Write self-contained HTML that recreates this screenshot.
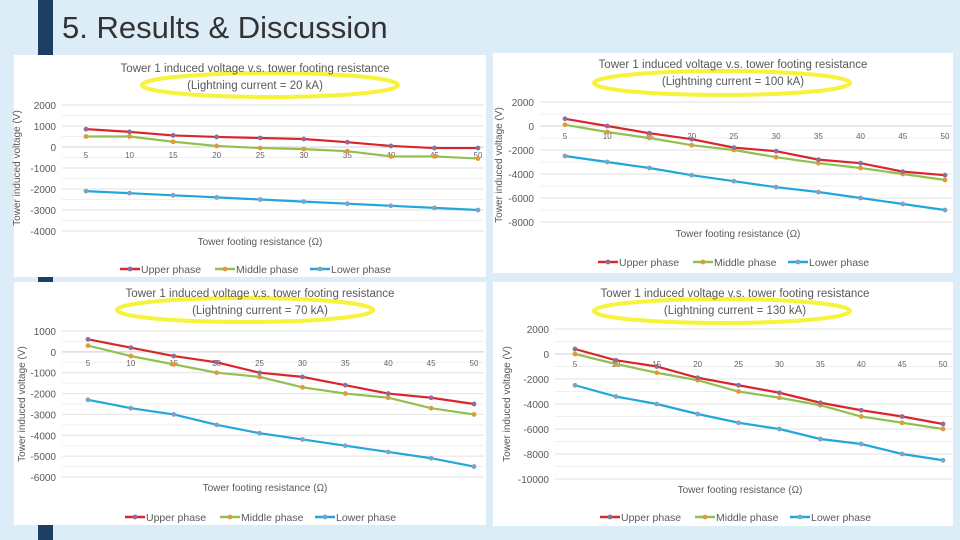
<!DOCTYPE html>
<html><head><meta charset="utf-8"><style>
body{margin:0;width:960px;height:540px;background:#dcedf7;overflow:hidden;position:relative;font-family:"Liberation Sans",sans-serif}
#bar{position:absolute;left:38px;top:0;width:15px;height:540px;background:#1d3f66}
#title{position:absolute;left:62px;top:10px;font-size:31px;color:#333;background:#dcedf7;padding-right:6px}
.panel{position:absolute;background:#fff}
svg{position:absolute;left:0;top:0}
</style></head><body>
<div id="bar"></div>
<div id="title">5. Results &amp; Discussion</div>
<div class="panel" style="left:14px;top:55px;width:472px;height:222px"></div>
<div class="panel" style="left:493px;top:53px;width:460px;height:220px"></div>
<div class="panel" style="left:14px;top:282px;width:472px;height:243px"></div>
<div class="panel" style="left:493px;top:282px;width:460px;height:244px"></div>
<svg id="s" width="960" height="540"></svg>
<script>
const categories=[5,10,15,20,25,30,35,40,45,50];
const upper20=[850,720,550,480,430,380,230,50,-50,-50];
const middle20=[500,500,250,50,-50,-100,-200,-450,-450,-550];
const lower20=[-2100,-2200,-2300,-2400,-2500,-2600,-2700,-2800,-2900,-3000];
const ticks20=[2000,1000,0,-1000,-2000,-3000,-4000];
const upper100=[600,0,-600,-1100,-1800,-2100,-2800,-3100,-3800,-4100];
const middle100=[100,-500,-1000,-1600,-2000,-2600,-3100,-3500,-4000,-4500];
const lower100=[-2500,-3000,-3500,-4100,-4600,-5100,-5500,-6000,-6500,-7000];
const ticks100=[2000,0,-2000,-4000,-6000,-8000];
const upper70=[600,200,-200,-500,-1000,-1200,-1600,-2000,-2200,-2500];
const middle70=[300,-200,-600,-1000,-1200,-1700,-2000,-2200,-2700,-3000];
const lower70=[-2300,-2700,-3000,-3500,-3900,-4200,-4500,-4800,-5100,-5500];
const ticks70=[1000,0,-1000,-2000,-3000,-4000,-5000,-6000];
const upper130=[400,-500,-1000,-1900,-2500,-3100,-3900,-4500,-5000,-5600];
const middle130=[0,-800,-1500,-2100,-3000,-3500,-4100,-5000,-5500,-6000];
const lower130=[-2500,-3400,-4000,-4800,-5500,-6000,-6800,-7200,-8000,-8500];
const ticks130=[2000,0,-2000,-4000,-6000,-8000,-10000];
const current=["20","100","70","130"];

const S=document.getElementById('s');const NS='http://www.w3.org/2000/svg';
function mk(t,a,txt){const e=document.createElementNS(NS,t);for(const k in a)e.setAttribute(k,a[k]);if(txt!==undefined)e.textContent=txt;S.appendChild(e);return e;}
const charts=[
 {cur:current[0],u:upper20,m:middle20,l:lower20,ticks:ticks20,gx0:62,gx1:484,x5:86,x50:478,vTop:2000,yTop:105,vBot:-4000,yBot:231,lab:158,t1:68,t2:85,ex:270,ey:85,cx:250,xt:241,lg:269,yl:20,ylc:168},
 {cur:current[1],u:upper100,m:middle100,l:lower100,ticks:ticks100,gx0:540,gx1:952,x5:565,x50:945,vTop:2000,yTop:102,vBot:-8000,yBot:222,lab:139,t1:64,t2:81,ex:722,ey:83,cx:728,xt:233,lg:262,yl:502,ylc:165},
 {cur:current[2],u:upper70,m:middle70,l:lower70,ticks:ticks70,gx0:62,gx1:484,x5:88,x50:474,vTop:1000,yTop:331,vBot:-6000,yBot:477,lab:366,t1:293,t2:310,ex:245,ey:310,cx:255,xt:487,lg:517,yl:25,ylc:404},
 {cur:current[3],u:upper130,m:middle130,l:lower130,ticks:ticks130,gx0:555,gx1:952,x5:575,x50:943,vTop:2000,yTop:329,vBot:-10000,yBot:479,lab:367,t1:293,t2:310,ex:722,ey:311,cx:730,xt:489,lg:517,yl:510,ylc:404}
];
charts.forEach((c,ci)=>{
 const X=v=>c.x5+(v-5)/(45)*(c.x50-c.x5);
 const Y=v=>c.yTop+(c.vTop-v)/(c.vTop-c.vBot)*(c.yBot-c.yTop);
 const step=c.ticks[0]-c.ticks[1];
 c.ticks.forEach((t,i)=>{
  let g=mk('line',{x1:c.gx0,x2:c.gx1,y1:Y(t),y2:Y(t),stroke:'#e2e2e2','stroke-width':1});
  
  if(i<c.ticks.length-1){let h=mk('line',{x1:c.gx0,x2:c.gx1,y1:Y(t-step/2),y2:Y(t-step/2),stroke:'#efefef','stroke-width':1});
  }
  let tl=mk('text',{x:c.gx0-6,y:Y(t)+4,'text-anchor':'end','font-size':10,fill:'#595959'},t);
  
 });
 let ax=mk('line',{x1:c.gx0,x2:c.gx1,y1:Y(0),y2:Y(0),stroke:'#d0d0d0'});
 
 categories.forEach(v=>{let t=mk('text',{x:X(v),y:c.lab,'text-anchor':'middle','font-size':8,fill:'#666'},v);
  });
 let e=mk('ellipse',{cx:c.ex,cy:c.ey,rx:128,ry:12,fill:'none',stroke:'#f7f23a','stroke-width':4});
 
 let t1=mk('text',{x:c.cx+5,y:c.t1+4,'text-anchor':'middle','font-size':11.5,fill:'#595959'},'Tower 1 induced voltage v.s. tower footing resistance');
 
 let t2=mk('text',{x:c.cx+5,y:c.t2+4,'text-anchor':'middle','font-size':11.5,fill:'#595959'},'(Lightning current = '+c.cur+' kA)');
 
 let yt=mk('text',{x:c.yl,y:c.ylc,'text-anchor':'middle','font-size':10,fill:'#595959',transform:'rotate(-90 '+c.yl+' '+c.ylc+')'},'Tower induced voltage (V)');
 
 let xt=mk('text',{x:c.cx+10,y:c.xt+4,'text-anchor':'middle','font-size':10,fill:'#595959'},'Tower footing resistance (Ω)');
 
 const ser=[[c.u,'#d9262c','#8a6f9a','Upper phase'],[c.m,'#92c050','#e09a3a','Middle phase'],[c.l,'#23a6dc','#7fa3c0','Lower phase']];
 ser.slice().reverse().forEach(s=>{
  let p=mk('polyline',{points:s[0].map((v,i)=>X(categories[i])+','+Y(v)).join(' '),fill:'none',stroke:s[1],'stroke-width':2.2});
  
  s[0].forEach((v,i)=>{let d=mk('circle',{cx:X(categories[i]),cy:Y(v),r:2.4,fill:s[2]});
   });
 });
 let lx=c.cx-130;
 ser.forEach((s,i)=>{
  const ox=lx+i*95;
  let l=mk('line',{x1:ox,x2:ox+20,y1:c.lg,y2:c.lg,stroke:s[1],'stroke-width':2.5});
  
  let d=mk('circle',{cx:ox+10,cy:c.lg,r:2.4,fill:s[2]});
  
  let t=mk('text',{x:ox+21,y:c.lg+4,'font-size':10.5,fill:'#595959'},s[3]);
  
 });
});
</script>
</body></html>
